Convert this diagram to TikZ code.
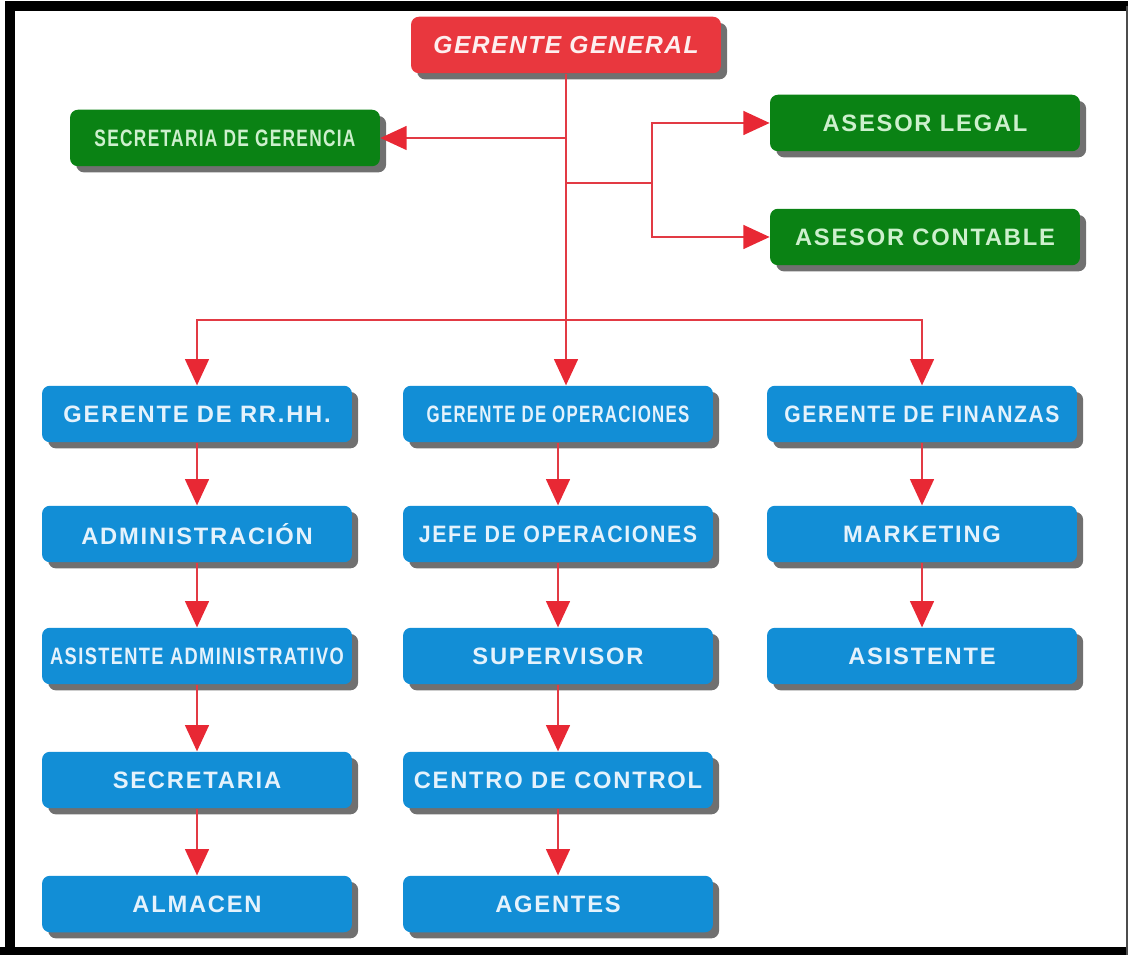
\documentclass[tikz,border=0pt]{standalone}
\usepackage{fontspec}
\setmainfont{Liberation Sans}
\newfontfamily\boxfont[LetterSpace=7.5]{Liberation Sans}
\newfontfamily\topfont[LetterSpace=6]{Liberation Sans}
\usepackage{graphicx}
\usetikzlibrary{arrows.meta,shadows}
\definecolor{ggred}{RGB}{233,55,62}
\definecolor{asgreen}{RGB}{10,130,20}
\definecolor{depblue}{RGB}{18,142,214}
\definecolor{linkred}{RGB}{226,58,68}
\definecolor{tipred}{RGB}{232,40,52}
\definecolor{greentext}{RGB}{205,240,205}
\definecolor{bluetext}{RGB}{228,242,252}
\newcommand{\narrow}[2]{\scalebox{#1}[1]{#2}}

\begin{document}
\begin{tikzpicture}[x=0.02cm,y=-0.02cm,box/.style={rounded corners=4.5pt,minimum width=6.2cm,minimum height=1.13cm,inner sep=0pt,align=center,font=\boxfont\fontsize{13.5pt}{15pt}\selectfont\bfseries,drop shadow={shadow xshift=3.5pt,shadow yshift=-3.5pt,opacity=0.7,fill=black!80}},top/.style={box,fill=ggred,text=white!92!ggred,font=\topfont\fontsize{14pt}{16pt}\selectfont\bfseries\itshape},staff/.style={box,fill=asgreen,text=greentext},dept/.style={box,fill=depblue,text=bluetext},edge/.style={draw=linkred,line width=1.4pt,-{Triangle[length=15pt,width=13.5pt,color=tipred]}}]
\useasboundingbox (0,0) rectangle (1128,955);
\draw[line width=5.5pt] (10,955) -- (10,6) -- (1128,6);
\fill (0,947) rectangle (1128,955);
\draw[black!70,line width=0.6pt] (1127,6) -- (1127,955);
\node[top] (gg) at (566,45) {GERENTE GENERAL};
\node[staff] (sec) at (225,138) {\narrow{0.73}{SECRETARIA DE GERENCIA}};
\node[staff] (legal) at (925,123) {ASESOR LEGAL};
\node[staff] (cont) at (925,237) {ASESOR CONTABLE};
\coordinate (split) at (652,183);
\node[dept] (rrhh) at (197,414) {GERENTE DE RR.HH.};
\node[dept] (adm) at (197,534) {ADMINISTRACIÓN};
\node[dept] (asis) at (197,656) {\narrow{0.77}{ASISTENTE ADMINISTRATIVO}};
\node[dept] (secr) at (197,780) {SECRETARIA};
\node[dept] (alm) at (197,904) {ALMACEN};
\node[dept] (gop) at (558,414) {\narrow{0.71}{GERENTE DE OPERACIONES}};
\node[dept] (jefe) at (558,534) {\narrow{0.9}{JEFE DE OPERACIONES}};
\node[dept] (sup) at (558,656) {SUPERVISOR};
\node[dept] (cc) at (558,780) {CENTRO DE CONTROL};
\node[dept] (ag) at (558,904) {AGENTES};
\node[dept] (gfin) at (922,414) {\narrow{0.89}{GERENTE DE FINANZAS}};
\node[dept] (mkt) at (922,534) {MARKETING};
\node[dept] (asi) at (922,656) {ASISTENTE};
\draw[edge] (gg.south) -- (gg.south |- gop.north);
\draw[edge] (gg.south |- sec.east) -- (sec.east);
\draw[draw=linkred,line width=1.4pt] (gg.south |- split) -- (split);
\draw[edge] (split) |- (legal.west);
\draw[edge] (split) |- (cont.west);
\draw[edge] (gg.south |- 0,320) -| (rrhh.north);
\draw[edge] (gg.south |- 0,320) -| (gfin.north);
\draw[edge] (rrhh) -- (adm);
\draw[edge] (adm) -- (asis);
\draw[edge] (asis) -- (secr);
\draw[edge] (secr) -- (alm);
\draw[edge] (gop) -- (jefe);
\draw[edge] (jefe) -- (sup);
\draw[edge] (sup) -- (cc);
\draw[edge] (cc) -- (ag);
\draw[edge] (gfin) -- (mkt);
\draw[edge] (mkt) -- (asi);
\end{tikzpicture}
\end{document}
